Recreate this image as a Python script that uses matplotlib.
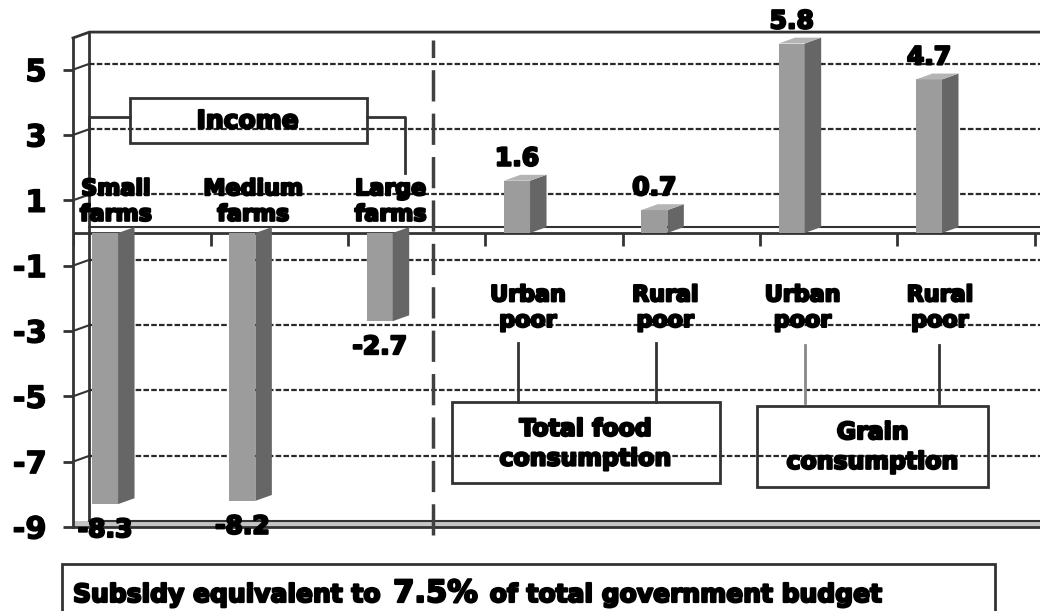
import matplotlib.pyplot as plt
import matplotlib.patheffects as pe
from matplotlib.patches import Rectangle

categories = ['Small\nfarms', 'Medium\nfarms', 'Large\nfarms',
              'Urban\npoor', 'Rural\npoor', 'Urban\npoor', 'Rural\npoor']
values = [-8.3, -8.2, -2.7, 1.6, 0.7, 5.8, 4.7]
y_ticks = [5, 3, 1, -1, -3, -5, -7, -9]
groups = ['Income', 'Total food\nconsumption', 'Grain\nconsumption']
note_parts = ['Subsidy equivalent to', '7.5%', 'of total government budget']
note_sizes = [18, 22, 18]

FRONT = '#9c9c9c'
SIDE = '#666666'
TOP = '#b4b4b4'
INK = '#333333'
HEAVY = [pe.withStroke(linewidth=1.6, foreground='black')]

plt.rcParams['font.family'] = 'DejaVu Sans'
plt.rcParams['font.weight'] = 'bold'

fig = plt.figure(figsize=(10.4, 6.11), dpi=100)
ax = fig.add_axes([0.0702, 0.1375, 0.93, 0.810])
x0, x1 = -0.233, 6.81
y0, y1 = -9, 6.15
ax.set_xlim(x0, x1)
ax.set_ylim(y0, y1)

bw = 0.19            # width of the front face
dx, dy = 0.12, 0.18  # fake 3-d depth
xs = list(range(len(values)))

# back wall, top edge and gridlines pushed back by the depth
wall = x0 + dx
ax.plot([wall, wall], [y0 + dy, y1], color=INK, lw=2, zorder=1)
ax.plot([x0, wall, x1], [y1 - dy, y1, y1], color=INK, lw=2, zorder=1, clip_on=False)
for t in y_ticks[:-1]:
    ax.plot([x0, wall], [t, t + dy], color=INK, lw=1.5, zorder=1)
    ax.plot([wall, x1], [t + dy, t + dy], color='#2a2a2a', lw=1.6,
            ls=(0, (2.5, 1.0)), zorder=1)

# floor at the bottom
ax.fill_between([x0, x1], y0, y0 + dy, color='#c4c4c4', lw=0, zorder=1, clip_on=False)
ax.plot([x0, x1], [y0, y0], color=INK, lw=2, zorder=1, clip_on=False)
ax.plot([wall, x1], [y0 + dy, y0 + dy], color=INK, lw=1.5, zorder=1)

# category axis at zero
ax.plot([x0, x1], [0, 0], color=INK, lw=2, zorder=2)
ax.plot([wall, x1], [dy, dy], color=INK, lw=1.5, zorder=2)
ax.vlines([i + 0.77 for i in range(-1, len(values))], -0.4, 0, color=INK, lw=2, zorder=2)

# bars: front, side, top
ax.bar(xs, values, width=bw, color=FRONT, zorder=3)
for xi, v in zip(xs, values):
    r = xi + bw / 2
    ax.fill([r, r + dx, r + dx, r], [0, dy, v + dy, v], color=SIDE, lw=0, zorder=3)
    if v > 0:
        ax.fill([xi - bw / 2, xi - bw / 2 + dx, r + dx, r], [v, v + dy, v + dy, v],
                color=TOP, lw=0, zorder=3)

# value labels
for xi, v in zip(xs, values):
    if v > 0:
        ax.annotate(f'{v:.1f}', (xi, v + dy), xytext=(0, 3), textcoords='offset points',
                    ha='center', va='bottom', fontsize=18, zorder=6, path_effects=HEAVY)
    else:
        ax.annotate(f'{v:.1f}', (xi, v), xytext=(0, -10), textcoords='offset points',
                    ha='center', va='top', fontsize=18, zorder=6, annotation_clip=False,
                    path_effects=HEAVY)

# category labels
for xi, v, lab in zip(xs, values, categories):
    ax.text(xi + 0.08, 0.95 if v < 0 else -2.3, lab, ha='center', va='center',
            fontsize=16, linespacing=1.35, zorder=5, path_effects=HEAVY)

# separator between the two panels
ax.plot([2.39, 2.39], [-9.25, y1 - dy - 0.05], color='#404040', lw=2.5,
        ls=(0, (9, 3.5)), zorder=4, clip_on=False)

# group boxes
ax.add_patch(Rectangle((0.18, 2.76), 1.73, 1.38, fill=False, ec=INK, lw=2, zorder=5))
ax.text(1.04, 3.42, groups[0], ha='center', va='center', fontsize=18, zorder=5,
        path_effects=HEAVY)
ax.plot([wall, wall, 0.18], [1.84, 3.55, 3.55], color=INK, lw=2, zorder=5)
ax.plot([1.91, 2.185, 2.185], [3.55, 3.55, 1.84], color=INK, lw=2, zorder=5)

ax.add_patch(Rectangle((2.53, -7.66), 1.95, 2.48, fill=False, ec=INK, lw=2, zorder=5))
ax.text(3.5, -6.45, groups[1], ha='center', va='center', fontsize=17,
        linespacing=1.3, zorder=5, path_effects=HEAVY)
for xi in xs[3:5]:
    ax.plot([xi + 0.01, xi + 0.01], [-3.37, -5.18], color=INK, lw=2, zorder=5)

ax.add_patch(Rectangle((4.75, -7.78), 1.68, 2.48, fill=False, ec=INK, lw=2, zorder=5))
ax.text(5.59, -6.55, groups[2], ha='center', va='center', fontsize=17,
        linespacing=1.3, zorder=5, path_effects=HEAVY)
ax.plot([xs[5] + 0.1] * 2, [-3.43, -5.2], color='#888888', lw=2, zorder=5)
ax.plot([xs[6] + 0.07] * 2, [-3.43, -5.2], color=INK, lw=2, zorder=5)

# axis styling
for s in ['top', 'right', 'bottom']:
    ax.spines[s].set_visible(False)
ax.spines['left'].set_bounds(y0, y1 - dy)
ax.spines['left'].set_linewidth(2)
ax.spines['left'].set_color(INK)
ax.set_xticks([])
ax.set_yticks(y_ticks)
ax.set_yticklabels([str(t) for t in y_ticks])
ax.tick_params(axis='y', length=7, width=2, color=INK, pad=12, labelsize=22)
for lab in ax.get_yticklabels():
    lab.set_path_effects([pe.withStroke(linewidth=1.0, foreground='black')])

# footnote box
fig.add_artist(Rectangle((62 / 1040, -0.02), (995 - 62) / 1040, 47 / 611 + 0.02,
                         transform=fig.transFigure, fill=False, ec=INK, lw=2))
fig.canvas.draw()
rend = fig.canvas.get_renderer()
xpos = 73 / 1040
for part, size in zip(note_parts, note_sizes):
    t = fig.text(xpos, 9 / 611, part, fontsize=size, ha='left', va='baseline',
                 path_effects=HEAVY)
    bb = t.get_window_extent(renderer=rend)
    xpos = (bb.x1 + 12) / fig.bbox.width

fig.savefig('out.png', dpi=100)
